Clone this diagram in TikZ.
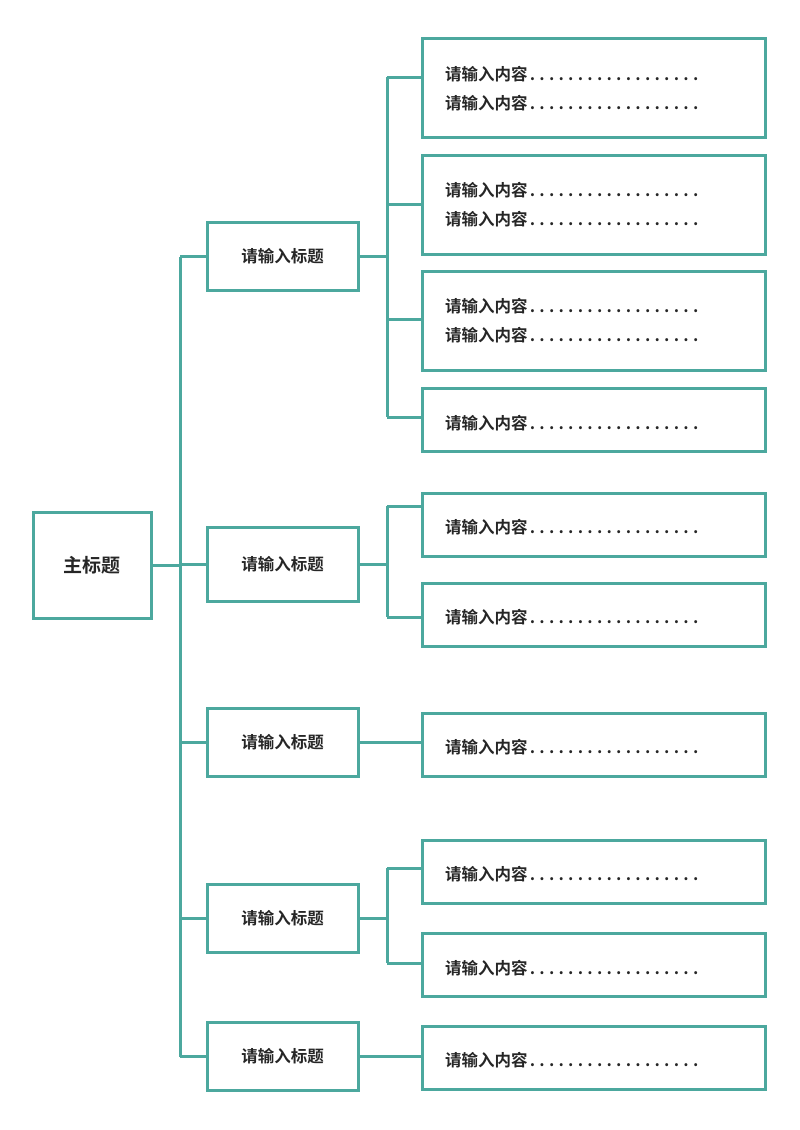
\documentclass[tikz,border=0pt]{standalone}
\usepackage{fontspec}
\newfontfamily\cjk{Noto Sans CJK SC}[BoldFont={Noto Sans CJK SC Bold}]
\definecolor{teal1}{HTML}{4CA89E}
\newcommand{\dotx}{\hbox to 9.6pt{\hss.\hss}}
\newcommand{\dotsix}{\dotx\dotx\dotx\dotx\dotx\dotx}
\newcommand{\leafitem}{请输入内容\dotsix\dotsix\dotsix}
\begin{document}
\begin{tikzpicture}[x=1pt,y=-1pt,
  bx/.style={draw=teal1,line width=3pt,inner sep=0pt},
  ln/.style={draw=teal1,line width=3pt},
  tx/.style={font=\cjk\bfseries\fontsize{16.5pt}{19pt}\selectfont,text=black!85,inner sep=0pt}]
\useasboundingbox (0,0) rectangle (800,1130);
% main
\node[bx,minimum width=118pt,minimum height=106pt] (m) at (92,565) {};
\node[tx,font=\cjk\bfseries\fontsize{19pt}{22pt}\selectfont] (mt) at (m) {主标题};
\coordinate (t1) at (180,257); \coordinate (t2) at (180,1057);
\draw[ln] (t1) -- (t2);
\draw[ln] (m.east) -- (180,565);
% level 2
\foreach \n/\y/\h in {a/256/68,b/564/74,c/742/68,d/918/68,e/1056/68}{
  \node[bx,minimum width=151pt,minimum height=\h pt] (\n) at (282.5,\y) {};
  \node[tx] at (\n) {请输入标题};
  \draw[ln] (180,\y) -- (\n.west);
}
% leaves
\foreach \n/\yc/\h in {l1/87.5/99,l2/204.5/99,l3/320.5/99,l4/419.5/63,l5/524.5/63,l6/614.5/63,l7/744.5/63,l8/871.5/63,l9/964.5/63,l10/1057.5/63}{
  \node[bx,minimum width=343pt,minimum height=\h pt] (\n) at (593.5,\yc) {};
}
\foreach \n/\y in {l1/74,l1/103,l2/190,l2/219,l3/306,l3/335}{
  \node[tx,anchor=west] at (445,\y) {\leafitem};
}
\foreach \n/\y in {l4/423,l5/527,l6/617,l7/747,l8/874,l9/968,l10/1060}{
  \node[tx,anchor=west] at (445,\y) {\leafitem};
}
% branches
\draw[ln] (387,77) -- (387,417);
\draw[ln] (a.east) -- (387,256);
\foreach \y in {77,204,319,417} \draw[ln] (387,\y) -- (422,\y);
\draw[ln] (387,506) -- (387,617);
\draw[ln] (b.east) -- (387,564);
\foreach \y in {506,617} \draw[ln] (387,\y) -- (422,\y);
\draw[ln] (c.east) -- (l7.west |- c.east);
\draw[ln] (387,868) -- (387,963);
\draw[ln] (d.east) -- (387,918);
\foreach \y in {868,963} \draw[ln] (387,\y) -- (422,\y);
\draw[ln] (e.east) -- (l10.west |- e.east);
\end{tikzpicture}
\end{document}
